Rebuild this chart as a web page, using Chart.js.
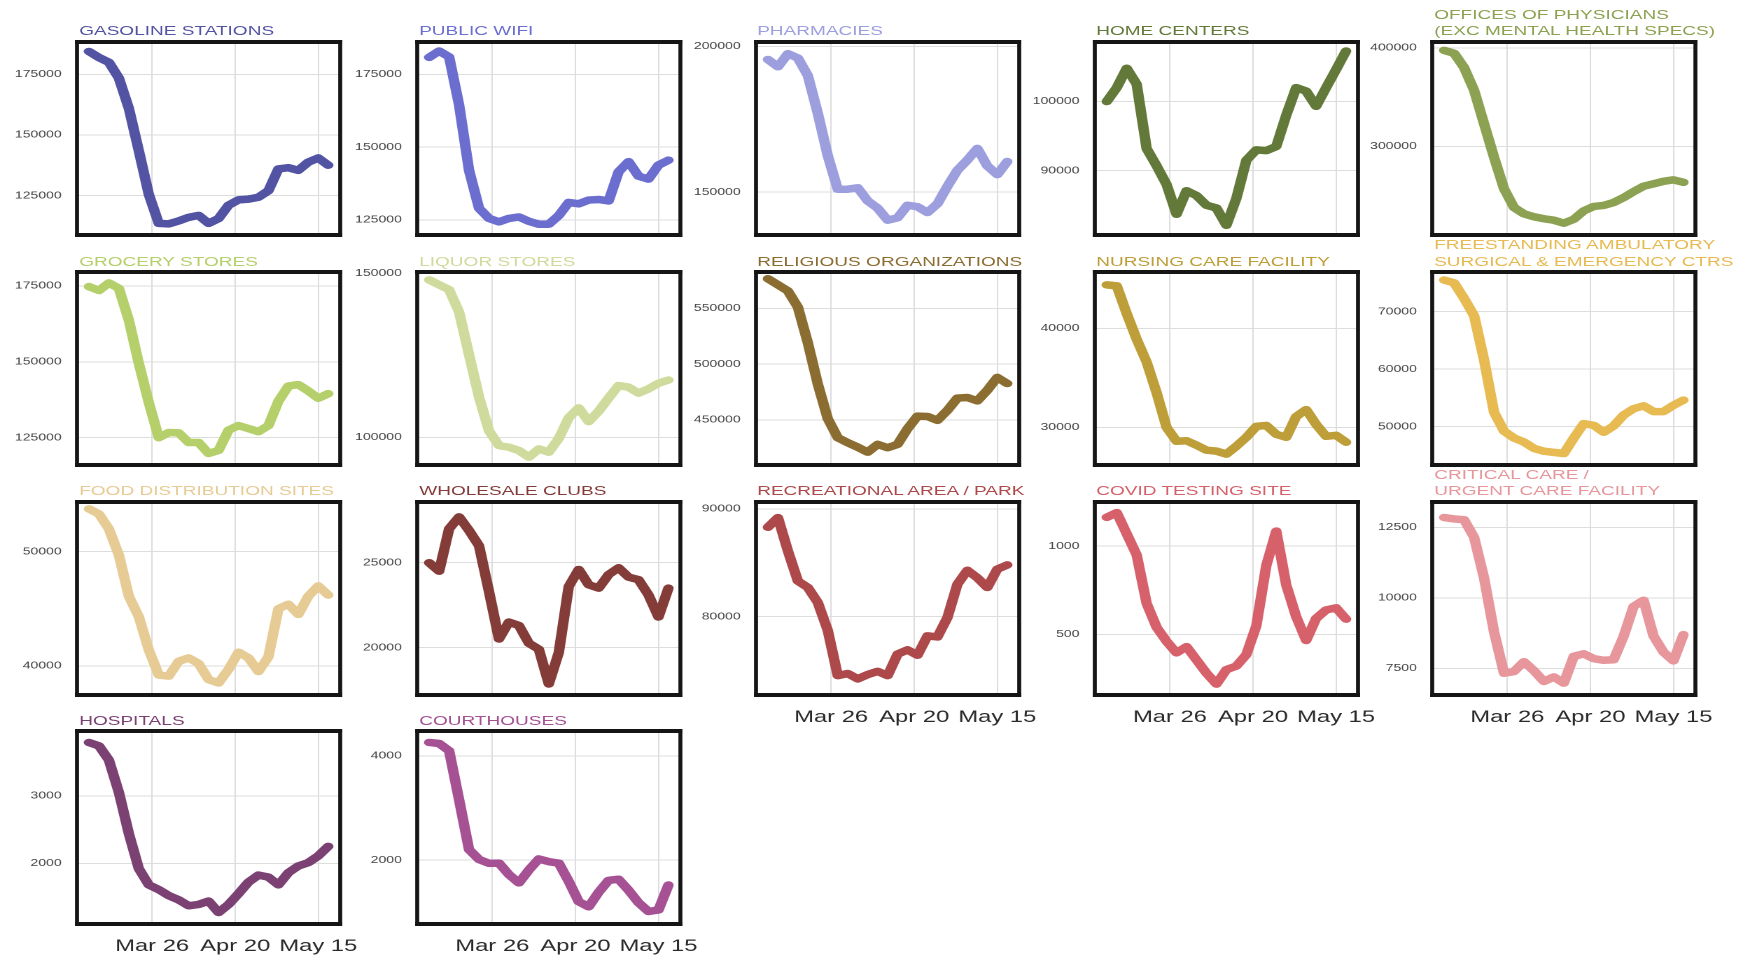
<!DOCTYPE html>
<html><head><meta charset="utf-8">
<script src="https://cdn.jsdelivr.net/npm/chart.js@4.4.1/dist/chart.umd.min.js"></script>
<style>
html,body{margin:0;padding:0;background:#fff;width:1737px;height:958px;overflow:hidden;}
#wrap{position:absolute;left:0;top:0;width:1241px;height:958px;transform:scaleX(1.4);transform-origin:0 0;}
.panel{position:absolute;}
.title{position:absolute;font-family:"Liberation Sans",Arial,sans-serif;font-size:13.6px;line-height:16.5px;white-space:nowrap;}
</style></head><body><div id="wrap"></div>
<script>
// x values: days since Mar 1, 2020 (Mar 7 ... May 18, every 3 days)
const days = [6,9,12,15,18,21,24,27,30,33,36,39,42,45,48,51,54,57,60,63,66,69,72,75,78];
const tickDays = [25,50,75];
const tickLabels = ['Mar 26','Apr 20','May 15'];

const panelTitles = [
  'GASOLINE STATIONS','PUBLIC WIFI','PHARMACIES','HOME CENTERS','OFFICES OF PHYSICIANS\n(EXC MENTAL HEALTH SPECS)',
  'GROCERY STORES','LIQUOR STORES','RELIGIOUS ORGANIZATIONS','NURSING CARE FACILITY','FREESTANDING AMBULATORY\nSURGICAL & EMERGENCY CTRS',
  'FOOD DISTRIBUTION SITES','WHOLESALE CLUBS','RECREATIONAL AREA / PARK','COVID TESTING SITE','CRITICAL CARE /\nURGENT CARE FACILITY',
  'HOSPITALS','COURTHOUSES'
];

const gasolineStations = [184500,182000,180000,173500,161000,143500,125500,113500,113300,114500,116000,116800,113500,115500,121000,123200,123500,124300,127000,136000,136500,135400,138800,140500,137500];
const publicWifi = [180800,183000,181000,164500,142000,129000,125500,124300,125500,126000,124500,123500,123500,126500,131000,130500,131800,132000,131500,141500,145000,140000,139000,143800,145500];
const pharmacies = [195500,193000,197500,196000,190000,177000,162500,151000,151000,151500,147000,144500,140400,141200,145500,145000,143000,146000,152000,157500,161000,165000,159000,156000,160500];
const homeCenters = [100000,102000,104800,102500,93200,90700,88000,83700,87100,86400,85000,84600,82100,86000,91500,93000,92900,93500,98000,102000,101500,99300,102000,104600,107300];
const physicianOffices = [397500,394500,380000,357000,323000,289000,257000,238000,231500,228500,226500,225000,222000,226000,234500,239000,240000,243000,248000,254000,259500,262000,264500,266000,263500];
const groceryStores = [174800,173500,176000,174200,163700,149500,136600,125000,126700,126600,123400,123400,119800,120800,127500,129000,128000,127000,129000,137000,142000,142500,140400,138000,139500];
const liquorStores = [148000,146500,145000,138200,125200,112300,102000,97500,97000,96000,94000,96500,95500,99700,106000,109000,104800,108000,112000,115800,115300,113500,114800,116500,117500];
const religiousOrgs = [576500,571000,565500,551000,519000,482000,451000,434000,429500,425500,421000,428000,425000,428000,442000,453300,453000,449500,458500,469500,470000,467000,476500,488000,482500];
const nursingCare = [44400,44300,41500,38900,36600,33500,30000,28600,28650,28200,27700,27600,27300,28100,29000,30100,30200,29300,29000,31100,31800,30300,29100,29200,28500];
const ambulatoryCtrs = [75500,75000,72300,69300,61600,52500,49200,48000,47300,46200,45700,45500,45300,48000,50500,50200,49000,50100,52000,53100,53600,52600,52600,53700,54600];
const foodDistribution = [53750,53300,52000,49700,46100,44300,41400,39200,39100,40400,40700,40200,38800,38500,39700,41200,40700,39500,40800,45000,45400,44500,46100,47000,46200];
const wholesaleClubs = [25000,24500,27000,27700,26900,26000,23300,20500,21500,21300,20250,19900,17850,19700,23600,24600,23700,23500,24300,24700,24150,24000,23100,21800,23500];
const recreationalParks = [88300,89200,86100,83300,82700,81300,78700,74500,74700,74200,74600,74900,74500,76500,76900,76400,78200,78100,79900,83000,84300,83600,82700,84400,84800];
const covidTesting = [1163,1190,1070,950,675,540,460,395,430,355,280,218,300,320,385,548,890,1085,780,600,465,590,638,650,586];
const urgentCare = [12850,12800,12770,12150,10710,8800,7330,7390,7740,7420,7040,7200,6980,7930,8020,7850,7790,7810,8640,9700,9920,8650,8080,7770,8700];
const hospitals = [3790,3740,3530,3050,2440,1920,1680,1610,1520,1458,1370,1390,1440,1270,1390,1550,1720,1825,1795,1680,1860,1960,2010,2110,2250];
const courthouses = [4260,4240,4100,3160,2200,2010,1936,1940,1720,1560,1808,2020,1968,1940,1590,1200,1100,1380,1610,1630,1420,1180,1010,1040,1519];

const seriesList = [gasolineStations,publicWifi,pharmacies,homeCenters,physicianOffices,groceryStores,liquorStores,religiousOrgs,nursingCare,ambulatoryCtrs,foodDistribution,wholesaleClubs,recreationalParks,covidTesting,urgentCare,hospitals,courthouses];

// y-axis limits and tick values per panel
const yLimits = [
  [108700,188400],[119800,186100],[135300,201500],[80700,108600],[210000,406000],
  [116000,179600],[91600,150400],[409500,582500],[26200,45700],[43300,76900],
  [37450,54350],[17200,28580],[72700,90650],[156,1250],[6560,13400],
  [1100,3960],[770,4480]
];
const yTickValues = [
  [125000,150000,175000],[125000,150000,175000],[150000,200000],[90000,100000],[300000,400000],
  [125000,150000,175000],[100000,150000],[450000,500000,550000],[30000,40000],[50000,60000,70000],
  [40000,50000],[20000,25000],[80000,90000],[500,1000],[7500,10000,12500],
  [2000,3000],[2000,4000]
];

const colors = ['#5254a3','#6b6ecf','#9c9ede','#637939','#8ca252','#b5cf6b','#cedb9c','#8c6d31','#bd9e39','#e7ba52','#e7cb94','#843c39','#ad494a','#d6616b','#e7969c','#7b4173','#a55194'];

// ---- layout (full-pixel coordinates, horizontally stretched by S) ----
const S = 1.4;
const colLeft = [77.5, 417.5, 755.5, 1094.5, 1432.5];
const rowTop = [41.5, 272, 501.5, 731];
const boxWFull = 262.5, boxH = 192.5;
const boxW = boxWFull / S;
const YW = 60, padR = 32, padT = 26;
const FONT = "'Liberation Sans', Arial, sans-serif";

const frame = {
  id: 'frame',
  afterDraw(chart) {
    const a = chart.chartArea, c = chart.ctx;
    const v = 4.0 / S, h = 4.0;
    c.save();
    c.fillStyle = '#151515';
    c.fillRect(a.left - v/2, a.top - h/2, a.right - a.left + v, h);
    c.fillRect(a.left - v/2, a.bottom - h/2, a.right - a.left + v, h);
    c.fillRect(a.left - v/2, a.top - h/2, v, a.bottom - a.top + h);
    c.fillRect(a.right - v/2, a.top - h/2, v, a.bottom - a.top + h);
    c.restore();
  }
};

const wrap = document.getElementById('wrap');

seriesList.forEach((vals, i) => {
  const col = i % 5, row = Math.floor(i / 5);
  const bottom = (row === 3) || (row === 2 && col >= 2);
  const XH = bottom ? 46 : 26;
  const bl = colLeft[col] / S, bt = rowTop[row];

  // title
  const t = document.createElement('div');
  t.className = 'title';
  const lines = panelTitles[i].split('\n');
  t.innerHTML = lines.map(s => s.replace(/&/g,'&amp;')).join('<br>');
  t.style.color = colors[i];
  const baseline = bt - 5.5;
  const off = (16.5 - 1.117*13.6)/2 + 0.905*13.6;
  t.style.left = (bl + 1.2) + 'px';
  t.style.top = (baseline - off - (lines.length - 1)*16.5) + 'px';
  wrap.appendChild(t);

  const W = Math.round(YW + boxW + padR);
  const H = Math.round(padT + boxH + XH);
  const box = document.createElement('div');
  box.className = 'panel';
  box.style.left = (bl - YW) + 'px';
  box.style.top = (bt - padT) + 'px';
  box.style.width = W + 'px';
  box.style.height = H + 'px';
  const cv = document.createElement('canvas');
  cv.width = W; cv.height = H;
  box.appendChild(cv);
  wrap.appendChild(box);

  const ch = new Chart(cv, {
    type: 'line',
    data: { datasets: [{
      data: vals.map((v, k) => ({ x: days[k], y: v })),
      borderColor: colors[i], borderWidth: 7.5, pointRadius: 0, tension: 0,
      borderCapStyle: 'round', borderJoinStyle: 'round', fill: false
    }]},
    options: {
      responsive: false, animation: false, events: [],
      devicePixelRatio: 2,
      layout: { padding: { top: padT, right: padR, left: 0, bottom: 0 } },
      plugins: { legend: { display: false }, tooltip: { enabled: false } },
      scales: {
        x: {
          type: 'linear', min: 2.4, max: 81.6,
          afterFit(s) { s.height = XH; },
          afterBuildTicks(s) { s.ticks = tickDays.map(v => ({ value: v })); },
          ticks: { display: bottom, padding: 12, color: '#2a2a2a', autoSkip: false, maxRotation: 0,
                   font: { family: FONT, size: 17 }, callback: (v, idx) => tickLabels[idx] },
          grid: { color: '#dddddd', lineWidth: 1, drawTicks: false },
          border: { display: false }
        },
        y: {
          min: yLimits[i][0], max: yLimits[i][1],
          afterFit(s) { s.width = YW; },
          afterBuildTicks(s) { s.ticks = yTickValues[i].map(v => ({ value: v })); },
          ticks: { padding: 11, color: '#444', font: { family: FONT, size: 10 }, callback: v => String(v) },
          grid: { color: '#dddddd', lineWidth: 1, drawTicks: false },
          border: { display: false }
        }
      }
    },
    plugins: [frame]
  });
  // align chart area exactly onto the intended box
  const a = ch.chartArea;
  box.style.left = (bl - a.left) + 'px';
  box.style.top = (bt - a.top) + 'px';
});
</script>
</body></html>
